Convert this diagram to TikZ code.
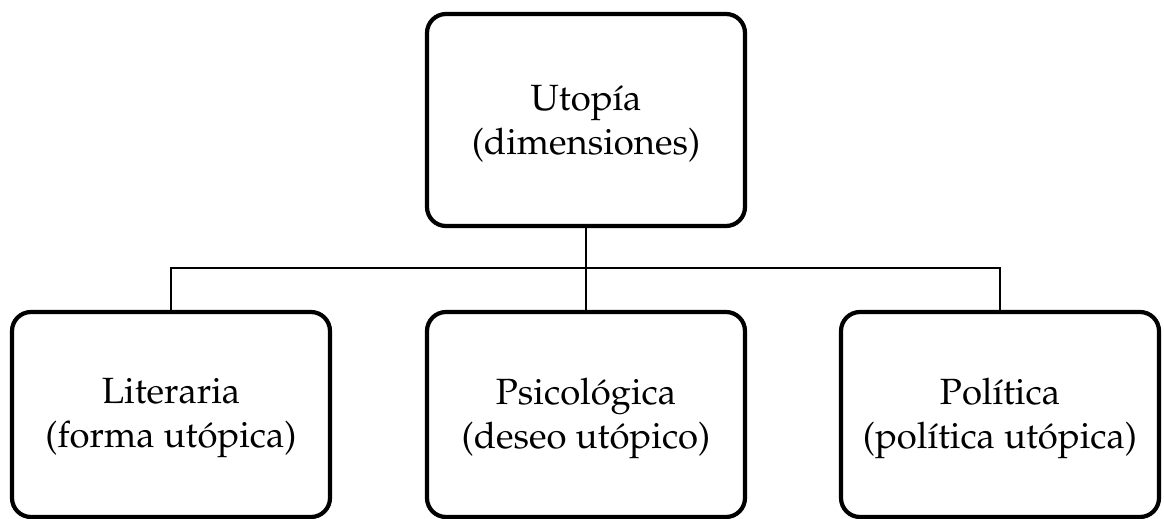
\documentclass[tikz,border=0pt]{standalone}
\usepackage[T1]{fontenc}
\usepackage{mathpazo}
\begin{document}
\begin{tikzpicture}[x=1pt,y=-1pt,
  box/.style={draw=black, line width=4.2pt, rounded corners=19pt,
    minimum width=318pt, inner sep=0pt},
  topbox/.style={box, minimum height=212pt},
  leafbox/.style={box, minimum height=205pt},
  label/.style={align=center, inner sep=0pt, yshift=-3.5pt,
    font=\fontsize{36.5}{44}\selectfont},
  link/.style={draw=black, line width=2.4pt}]
  \useasboundingbox (0,0) rectangle (1164,519);
  % root and the three dimensions
  \node[topbox] (root) at (586,120) {};
  \node[leafbox] (lit) at (171,414.5) {};
  \node[leafbox] (psi) at (586,414.5) {};
  \node[leafbox] (pol) at (1000,414.5) {};
  % their captions
  \node[label] (rootT) at (root.center) {Utop\'{\i}a\\(dimensiones)};
  \node[label] (litT) at (lit.center) {Literaria\\(forma ut\'opica)};
  \node[label] (psiT) at (psi.center) {Psicol\'ogica\\(deseo ut\'opico)};
  \node[label] (polT) at (pol.center) {Pol\'{\i}tica\\(pol\'{\i}tica ut\'opica)};
  % connectors
  \coordinate (bus) at (586,268);
  \path[link] (root.south) -- (psi.north);
  \path[link] (lit.north) |- (bus) -| (pol.north);
\end{tikzpicture}
\end{document}
